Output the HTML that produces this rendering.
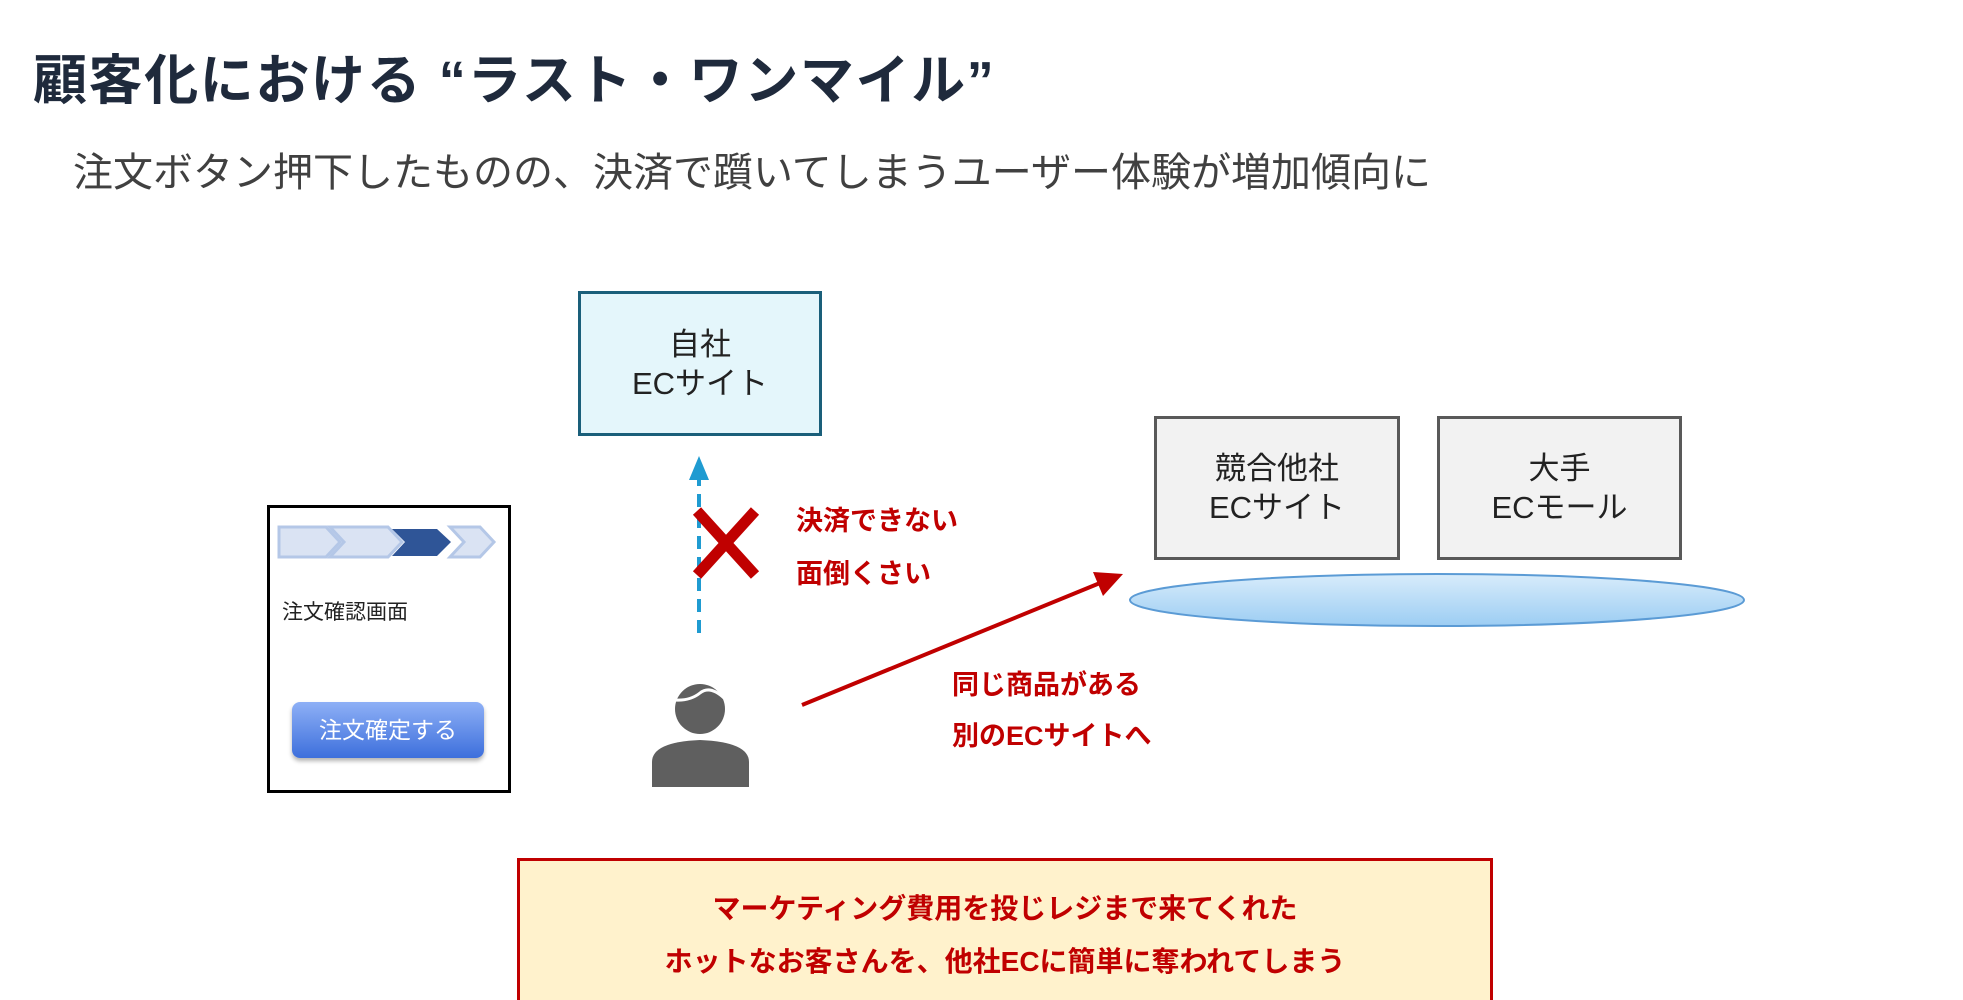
<!DOCTYPE html>
<html><head><meta charset="utf-8"><style>
body{margin:0;width:1963px;height:1000px;background:#fff;position:relative;overflow:hidden;font-family:"Liberation Sans","Noto Sans CJK JP",sans-serif}
.a{position:absolute;white-space:nowrap}
.box{position:absolute;box-sizing:border-box;display:flex;flex-direction:column;align-items:center;justify-content:center;font-size:31px;line-height:39px;color:#222}
.red{color:#c00000;font-weight:bold;font-size:27px}
</style></head><body>
<div class="a" style="left:33px;top:36px;font-size:54px;font-weight:bold;color:#1f2a3c;letter-spacing:1.6px">顧客化における “ラスト・ワンマイル”</div>
<div class="a" style="left:73px;top:140px;font-size:40px;color:#404040;letter-spacing:0px">注文ボタン押下したものの、決済で躓いてしまうユーザー体験が増加傾向に</div>

<div class="box" style="left:578px;top:291px;width:244px;height:145px;background:#e4f6fb;border:3px solid #1a5f7a"><div>自社</div><div>ECサイト</div></div>
<div class="box" style="left:1154px;top:416px;width:246px;height:144px;background:#f2f2f2;border:3px solid #595959"><div>競合他社</div><div>ECサイト</div></div>
<div class="box" style="left:1437px;top:416px;width:245px;height:144px;background:#f2f2f2;border:3px solid #595959"><div>大手</div><div>ECモール</div></div>

<div class="a" style="left:267px;top:505px;width:244px;height:288px;box-sizing:border-box;border:3px solid #000"></div>
<div class="a" style="left:282px;top:596px;font-size:21px;color:#222">注文確認画面</div>
<div class="a" style="left:292px;top:702px;width:192px;height:56px;border-radius:8px;background:linear-gradient(#8eb0f6,#3d6fdc);box-shadow:0 3px 4px rgba(0,0,0,.3);color:#fff;font-size:23px;text-align:center;line-height:56px">注文確定する</div>

<svg class="a" style="left:0;top:0" width="1963" height="1000">
<defs>
<linearGradient id="eg" x1="0" y1="0" x2="0" y2="1"><stop offset="0" stop-color="#d8ecfb"/><stop offset="1" stop-color="#9ccdf3"/></linearGradient>
</defs>
<g stroke="#b4c7e7" stroke-width="3" fill="#dae3f3">
<polygon points="279,527 326,527 340,542 326,557 279,557"/>
<polygon points="330,527 388,527 402,542 388,557 330,557 344,542"/>
<polygon points="450,527 480,527 494,542 480,557 450,557 464,542"/>
</g>
<polygon points="392,529 437,529 451,542 437,556 392,556 405,542" fill="#2f5597"/>
<ellipse cx="1437" cy="600" rx="307" ry="26" fill="url(#eg)" stroke="#5b9bd5" stroke-width="2"/>
<line x1="699" y1="633" x2="699" y2="475" stroke="#1f9bd1" stroke-width="4" stroke-dasharray="13,8"/>
<polygon points="699,456 689,480 709,480" fill="#1f9bd1"/>
<g stroke="#c00000" stroke-width="11"><line x1="697" y1="511" x2="755" y2="575"/><line x1="755" y1="511" x2="697" y2="575"/></g>
<line x1="802" y1="705" x2="1100" y2="583" stroke="#c00000" stroke-width="4"/>
<polygon points="1123,574 1093,572 1103,596" fill="#c00000"/>
<g fill="#5f5f5f">
<circle cx="700" cy="709" r="25"/>
<path d="M652 787 L652 762 Q652 742 700 740 Q749 742 749 762 L749 787 Z"/>
</g>
<path d="M675 700 Q690 701 700 693 Q710 685 724 698" stroke="#fff" stroke-width="3" fill="none"/>
</svg>

<div class="a red" style="left:796px;top:499px">決済できない</div>
<div class="a red" style="left:796px;top:552px">面倒くさい</div>
<div class="a red" style="left:952px;top:663px">同じ商品がある</div>
<div class="a red" style="left:952px;top:714px">別のECサイトへ</div>

<div class="a" style="left:517px;top:858px;width:976px;height:142px;box-sizing:border-box;border:3px solid #c00000;border-bottom:none;background:#fff2cc;text-align:center;color:#c00000;font-weight:bold;font-size:28px;line-height:53px;padding-top:21px">マーケティング費用を投じレジまで来てくれた<br>ホットなお客さんを、他社ECに簡単に奪われてしまう</div>
</body></html>
